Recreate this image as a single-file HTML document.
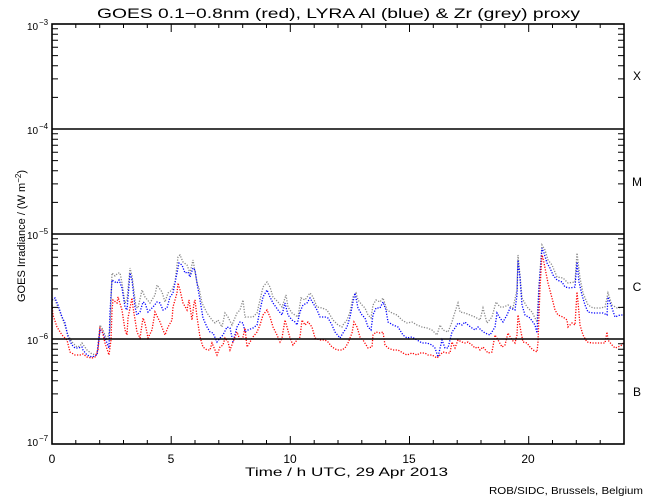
<!DOCTYPE html>
<html><head><meta charset="utf-8"><style>
html,body{margin:0;padding:0;background:#fff;}
svg{display:block;}
text{font-family:"Liberation Sans",sans-serif;fill:#000;}
</style></head><body>
<svg width="650" height="500" viewBox="0 0 650 500" xmlns="http://www.w3.org/2000/svg">
<rect width="650" height="500" fill="#fff"/>
<!-- data -->
<g fill="none" stroke-width="1.3" stroke-dasharray="1.2 1.5">
<polyline stroke="#888888" points="52,300 53,300 55,300 58,307 63,320 68,335 72,342 77,347 80,346 82,343 87,350 92,354 97,355 100,325 103,330 107,340 110,330 112,273 115,276 118,273 120,273 122,283 125,303 127,300 130,268 132,276 136,307 138,308 142,290 145,297 150,303 155,295 157,285 162,292 165,302 168,293 172,290 175,282 178,257 180,255 183,262 187,265 190,273 193,260 197,283 199,288 202,303 207,313 212,320 215,323 218,320 222,327 225,313 228,317 232,325 237,313 240,310 243,300 245,317 250,317 253,317 257,313 260,300 263,287 267,282 270,287 273,297 278,302 282,307 286,295 288,307 292,313 295,315 298,317 301,298 305,300 310,293 313,297 317,307 322,308 327,310 330,315 333,320 338,325 342,327 343,325 347,320 350,312 353,297 356,293 358,300 362,305 365,308 368,315 371,318 373,305 376,300 380,302 383,298 387,310 392,313 397,315 402,320 407,323 412,322 417,325 422,327 427,328 432,330 437,335 440,325 443,330 448,332 452,322 454,315 458,303 460,312 465,313 470,315 475,317 480,320 483,308 487,323 492,317 496,302 500,307 504,307 508,305 513,308 517,290 518,255 520,275 522,298 527,307 532,312 537,322 539,285 542,245 545,250 548,260 552,265 557,277 563,278 568,283 575,282 577,253 580,278 583,293 588,305 593,308 600,308 605,307 608,293 612,305 617,308 624,307"/>
<polyline stroke="#0000ff" points="52,300 55,298 58,305 62,317 65,323 68,337 72,345 75,348 78,348 82,347 83,350 87,355 92,357 97,355 100,330 103,333 107,343 109,348 110,312 112,280 115,282 117,283 119,280 122,288 125,307 127,310 130,273 132,280 135,307 137,315 140,312 143,302 145,303 148,312 153,307 157,302 160,303 163,310 167,308 170,297 173,293 177,273 179,263 182,265 185,273 188,272 190,277 193,268 195,270 197,283 200,300 203,318 207,327 210,332 213,333 217,342 220,338 223,335 227,327 230,328 233,342 237,327 240,322 243,323 245,332 248,330 253,328 257,325 260,310 263,297 267,290 270,297 273,303 278,310 282,315 285,303 288,315 292,320 295,322 297,325 300,312 303,305 307,303 310,298 313,303 317,310 320,317 325,317 328,318 332,325 335,332 340,338 343,333 347,327 350,317 353,302 355,293 358,308 362,315 365,318 368,327 371,330 373,315 376,308 380,308 383,302 386,310 388,322 393,325 398,327 403,335 407,338 412,337 417,340 422,343 427,343 432,345 435,348 438,357 442,340 445,348 448,348 452,332 455,328 458,323 462,325 465,322 468,325 472,328 475,330 478,327 481,330 485,333 490,335 495,327 497,313 500,318 503,322 507,315 510,308 515,310 517,295 518,260 520,278 522,305 525,315 530,318 535,325 537,333 539,288 542,248 544,253 547,263 550,268 553,275 557,280 562,282 565,287 570,288 575,287 577,262 579,282 582,295 585,305 588,312 593,313 598,313 603,313 607,315 608,297 612,308 615,317 620,315 624,315"/>
<polyline stroke="#ff0000" points="52,305 53,315 57,327 62,335 67,340 70,352 75,355 80,355 83,354 87,357 92,358 95,357 98,350 100,328 102,330 105,343 109,355 111,340 112,310 113,300 117,303 118,297 122,310 125,330 127,335 128,318 132,298 133,307 137,332 140,338 143,318 145,323 148,338 152,330 155,312 160,322 165,335 168,327 172,320 173,307 177,293 178,283 180,290 183,303 187,310 189,300 192,320 194,303 195,300 197,317 200,337 203,347 207,350 210,350 212,343 215,350 217,355 220,347 223,345 225,338 228,342 230,350 233,342 237,332 240,340 243,337 245,328 247,347 250,342 253,337 257,332 260,325 263,315 267,310 270,317 273,327 277,335 280,342 282,338 285,320 287,327 290,338 293,345 297,340 300,337 302,320 305,325 308,322 312,327 315,338 320,340 325,340 328,342 332,347 337,350 342,350 345,348 348,343 352,333 354,322 357,327 360,337 363,340 368,348 372,347 373,335 376,332 380,333 383,332 385,345 388,348 393,350 398,350 403,353 407,355 412,353 417,355 420,353 425,353 428,355 432,355 437,358 440,355 443,352 447,353 450,353 452,342 455,348 458,340 462,342 465,343 468,342 472,345 475,348 478,347 480,350 483,347 488,353 492,352 495,335 498,340 502,347 505,345 508,333 512,340 515,343 517,335 518,315 521,332 523,342 527,343 530,347 533,350 537,352 538,342 540,288 542,255 543,258 545,268 548,283 552,298 555,310 558,315 563,317 567,320 568,327 572,323 575,325 577,292 578,302 580,325 583,335 587,342 592,343 597,343 602,343 605,343 607,332 608,340 612,345 615,348 618,347 622,345 624,342"/>
</g>
<!-- class lines -->
<g stroke="#000" stroke-width="1.6">
<line x1="52" y1="129" x2="624" y2="129"/>
<line x1="52" y1="234" x2="624" y2="234"/>
<line x1="52" y1="339" x2="624" y2="339"/>
</g>
<!-- axes box -->
<rect x="52" y="24" width="572" height="420" fill="none" stroke="#000" stroke-width="1.6"/>
<!-- ticks -->
<g stroke="#000" stroke-width="1">
<path d="M52 444v-8M75.8 444v-4M99.7 444v-4M123.5 444v-4M147.3 444v-4M171.2 444v-8M195 444v-4M218.8 444v-4M242.7 444v-4M266.5 444v-4M290.3 444v-8M314.2 444v-4M338 444v-4M361.8 444v-4M385.7 444v-4M409.5 444v-8M433.3 444v-4M457.2 444v-4M481 444v-4M504.8 444v-4M528.7 444v-8M552.5 444v-4M576.3 444v-4M600.2 444v-4"/>
<path d="M52 24v8M75.8 24v4M99.7 24v4M123.5 24v4M147.3 24v4M171.2 24v8M195 24v4M218.8 24v4M242.7 24v4M266.5 24v4M290.3 24v8M314.2 24v4M338 24v4M361.8 24v4M385.7 24v4M409.5 24v8M433.3 24v4M457.2 24v4M481 24v4M504.8 24v4M528.7 24v8M552.5 24v4M576.3 24v4M600.2 24v4"/>
<path d="M52 412.4h6M52 393.9h6M52 380.8h6M52 370.6h6M52 362.3h6M52 355.3h6M52 349.2h6M52 343.8h6M52 307.4h6M52 288.9h6M52 275.8h6M52 265.6h6M52 257.3h6M52 250.3h6M52 244.2h6M52 238.8h6M52 202.4h6M52 183.9h6M52 170.8h6M52 160.6h6M52 152.3h6M52 145.3h6M52 139.2h6M52 133.8h6M52 97.4h6M52 78.9h6M52 65.8h6M52 55.6h6M52 47.3h6M52 40.3h6M52 34.2h6M52 28.8h6"/>
<path d="M624 412.4h-6M624 393.9h-6M624 380.8h-6M624 370.6h-6M624 362.3h-6M624 355.3h-6M624 349.2h-6M624 343.8h-6M624 307.4h-6M624 288.9h-6M624 275.8h-6M624 265.6h-6M624 257.3h-6M624 250.3h-6M624 244.2h-6M624 238.8h-6M624 202.4h-6M624 183.9h-6M624 170.8h-6M624 160.6h-6M624 152.3h-6M624 145.3h-6M624 139.2h-6M624 133.8h-6M624 97.4h-6M624 78.9h-6M624 65.8h-6M624 55.6h-6M624 47.3h-6M624 40.3h-6M624 34.2h-6M624 28.8h-6"/>
</g>
<!-- title -->
<text x="97" y="18" font-size="14" textLength="483" lengthAdjust="spacingAndGlyphs">GOES 0.1−0.8nm (red), LYRA Al (blue) &amp; Zr (grey) proxy</text>
<!-- y tick labels -->
<g font-size="10">
<text x="27" y="30">10</text><text x="39" y="25" font-size="8">−3</text>
<text x="27" y="134">10</text><text x="39" y="129" font-size="8">−4</text>
<text x="27" y="239">10</text><text x="39" y="234" font-size="8">−5</text>
<text x="27" y="344">10</text><text x="39" y="339" font-size="8">−6</text>
<text x="27" y="446">10</text><text x="39" y="441" font-size="8">−7</text>
</g>
<!-- y label -->
<text transform="translate(25,236) rotate(-90)" text-anchor="middle" font-size="11">GOES Irradiance / (W m<tspan font-size="8" dy="-4">−2</tspan><tspan dy="4">)</tspan></text>
<!-- x tick labels -->
<g font-size="12" text-anchor="middle">
<text x="52" y="463">0</text>
<text x="171" y="463">5</text>
<text x="290" y="463">10</text>
<text x="409" y="463">15</text>
<text x="528" y="463">20</text>
</g>
<text x="245" y="476" font-size="12" textLength="203" lengthAdjust="spacingAndGlyphs">Time / h UTC, 29 Apr 2013</text>
<!-- class letters -->
<g font-size="12" text-anchor="middle">
<text x="637" y="80">X</text>
<text x="637" y="186">M</text>
<text x="637" y="291">C</text>
<text x="637" y="396">B</text>
</g>
<text x="489" y="494" font-size="10" textLength="154" lengthAdjust="spacingAndGlyphs">ROB/SIDC, Brussels, Belgium</text>
</svg>
</body></html>
